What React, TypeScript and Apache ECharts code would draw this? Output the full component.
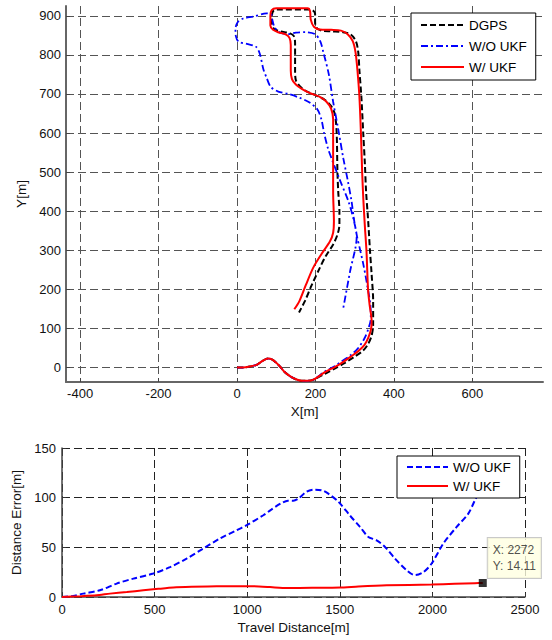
import React, { useEffect, useRef } from "react";
import * as echarts from "echarts";

// ---------- top chart (trajectory) ----------
const xTicksTop = [-400, -200, 0, 200, 400, 600];
const yTicksTop = [0, 100, 200, 300, 400, 500, 600, 700, 800, 900];

const startLeg: number[][] = [
  [0, 0], [15, 0], [35, 3], [50, 7], [62, 15], [72, 21], [80, 23], [90, 20],
  [100, 12], [110, 2], [120, -10], [135, -22], [150, -30], [165, -34], [180, -34], [195, -31],
];

const dgpsPath: number[][] = [
  ...startLeg,
  [224, -16], [250, -2], [275, 12], [300, 28], [320, 42], [333, 58], [343, 81], [347, 111],
  [347, 170], [343, 240], [339, 298], [334, 380], [329, 450], [326, 520], [322, 595], [317, 692],
  [312, 760], [309, 807], [303, 835], [290, 852], [270, 858], [240, 860], [215, 862], [202, 870],
  [199, 885], [199, 905], [193, 914], [180, 916], [100, 916], [92, 912], [89, 900], [89, 878],
  [95, 866], [110, 860], [135, 855], [145, 848], [148, 830], [148, 760], [150, 735], [160, 720],
  [175, 708], [200, 697], [225, 684], [242, 666], [250, 645], [254, 600], [256, 500], [258, 450],
  [261, 400], [261, 366], [256, 340], [245, 315], [225, 283], [211, 255], [190, 210], [173, 170],
  [158, 141],
];

const woUkfPath: number[][] = [
  ...startLeg,
  [224, -10], [250, 4], [267, 16], [290, 32], [309, 50], [325, 75], [335, 100], [341, 125],
  [340, 160], [332, 210], [322, 264], [314, 300], [306, 335], [298, 380], [292, 425], [282, 480],
  [271, 535], [258, 610], [245, 680], [234, 750], [220, 807], [212, 835], [199, 853], [175, 858],
  [150, 857], [131, 853], [110, 857], [96, 870], [90, 890], [88, 903], [75, 906], [42, 898],
  [16, 893], [2, 884], [-4, 866], [-3, 848], [4, 834], [25, 828], [48, 821], [58, 803],
  [67, 764], [76, 740], [86, 718], [105, 706], [131, 700], [160, 690], [185, 678], [205, 660],
  [215, 635], [222, 600], [232, 560], [241, 535], [262, 480], [284, 425], [298, 375], [305, 335],
  [288, 245], [271, 153],
];

const wUkfPath: number[][] = [
  ...startLeg,
  [224, -12], [250, 2], [267, 12], [290, 28], [309, 42], [325, 58], [335, 77], [342, 100],
  [343, 120], [338, 160], [334, 200], [330, 298], [326, 360], [322, 430], [319, 500], [316, 595],
  [312, 692], [307, 760], [302, 807], [295, 835], [282, 853], [265, 862], [240, 864], [211, 865],
  [196, 872], [188, 890], [186, 912], [180, 919], [100, 919], [88, 914], [85, 900], [85, 875],
  [92, 864], [105, 858], [125, 852], [134, 843], [137, 825], [137, 760], [140, 738], [150, 724],
  [165, 713], [186, 702], [210, 693], [228, 680], [240, 662], [245, 635], [245, 550], [245, 450],
  [247, 374], [245, 345], [237, 323], [215, 290], [194, 255], [175, 210], [159, 170], [146, 149],
];

// ---------- bottom chart (distance error) ----------
const woUkfErr: number[][] = [
  [0, 0], [60, 1], [115, 3.4], [205, 6.8], [295, 13.5], [385, 18.5], [493, 23.6], [583, 30],
  [673, 38.7], [763, 48.8], [853, 58.9], [943, 67.2], [997, 72.3], [1087, 82.3], [1130, 88],
  [1180, 94], [1220, 97], [1249, 96.8], [1276, 99], [1321, 106], [1360, 108], [1402, 107.5],
  [1438, 104], [1492, 96], [1555, 82], [1609, 70.6], [1654, 60.5], [1699, 57], [1744, 50.4],
  [1798, 38.7], [1861, 27], [1906, 22], [1951, 25], [1996, 33.7], [2059, 53.8], [2131, 70.6],
  [2194, 84], [2230, 97.5], [2272, 112],
];

const wUkfErr: number[][] = [
  [0, 0], [100, 0.8], [187, 1.7], [259, 3.4], [350, 5], [439, 6.8], [520, 8.2], [601, 9.5],
  [700, 10.2], [835, 10.8], [1033, 10.8], [1123, 10], [1213, 9], [1350, 9.2], [1501, 9.5],
  [1600, 10.6], [1753, 11.8], [1996, 12.5], [2120, 13.3], [2230, 13.9], [2272, 14.11],
];

const FONT = "'Liberation Sans', Arial, Helvetica, sans-serif";
const BOTTOM_TAG = " (e)";

function buildOption() {
  const tipPoint = wUkfErr[wUkfErr.length - 1];
  const labelStyle = { fontSize: 13, color: "#111", fontFamily: FONT };
  const nameStyle = { fontSize: 13.5, color: "#111", fontFamily: FONT };
  const plain = (v: number) => String(v);
  const split = (color: string) => ({
    show: true,
    lineStyle: { type: [8, 4], color, width: 1 },
  });
  return {
    animation: false,
    textStyle: { fontFamily: FONT },
    grid: [
      { left: 66, top: 6, width: 477, height: 376 },
      { left: 62, top: 448, width: 463, height: 149 },
    ],
    xAxis: [
      {
        gridIndex: 0,
        type: "value",
        min: -436,
        max: 780,
        axisLine: { show: true, onZero: false, lineStyle: { color: "#666", width: 2 } },
        axisTick: { show: true, inside: true, length: 4, customValues: xTicksTop, lineStyle: { color: "#444" } },
        axisLabel: { ...labelStyle, customValues: xTicksTop, margin: 5, formatter: plain },
        splitLine: split("#555"),
        name: "X[m]",
        nameLocation: "middle",
        nameGap: 20,
        nameTextStyle: nameStyle,
      },
      {
        gridIndex: 1,
        type: "value",
        min: 0,
        max: 2500,
        interval: 500,
        axisLine: { show: true, onZero: false, lineStyle: { color: "#444", width: 1.5 } },
        axisTick: { show: true, inside: true, length: 4, lineStyle: { color: "#333" } },
        axisLabel: { ...labelStyle, margin: 6, formatter: plain },
        splitLine: split("#222"),
        name: "Travel Distance[m]",
        nameLocation: "middle",
        nameGap: 23,
        nameTextStyle: nameStyle,
      },
    ],
    yAxis: [
      {
        gridIndex: 0,
        type: "value",
        min: -37,
        max: 925,
        axisLine: { show: true, onZero: false, lineStyle: { color: "#666", width: 2 } },
        axisTick: { show: true, inside: true, length: 4, customValues: yTicksTop, lineStyle: { color: "#444" } },
        axisLabel: { ...labelStyle, customValues: yTicksTop, margin: 5, formatter: plain },
        splitLine: split("#555"),
        name: "Y[m]",
        nameLocation: "middle",
        nameRotate: 90,
        nameGap: 37,
        nameTextStyle: nameStyle,
      },
      {
        gridIndex: 1,
        type: "value",
        min: 0,
        max: 150,
        interval: 50,
        axisLine: { show: true, onZero: false, lineStyle: { color: "#444", width: 1.5 } },
        axisTick: { show: true, inside: true, length: 4, lineStyle: { color: "#333" } },
        axisLabel: { ...labelStyle, margin: 6, formatter: plain },
        splitLine: split("#222"),
        name: "Distance Error[m]",
        nameLocation: "middle",
        nameRotate: 90,
        nameGap: 34,
        nameTextStyle: nameStyle,
      },
    ],
    legend: [
      {
        orient: "vertical",
        left: 411,
        top: 13,
        data: ["DGPS", "W/O UKF", "W/ UKF"],
        backgroundColor: "#fff",
        borderColor: "#000",
        borderWidth: 1,
        padding: [5, 9, 6, 9],
        itemGap: 7,
        itemWidth: 43,
        itemHeight: 14,
        itemStyle: { opacity: 0 },
        textStyle: { fontSize: 13.5, color: "#000", fontFamily: FONT },
        selectedMode: false,
      },
      {
        orient: "vertical",
        left: 397,
        top: 456,
        data: ["W/O UKF" + BOTTOM_TAG, "W/ UKF" + BOTTOM_TAG],
        formatter: (n: string) => n.replace(BOTTOM_TAG, ""),
        backgroundColor: "#fff",
        borderColor: "#000",
        borderWidth: 1,
        padding: [4, 9, 5, 9],
        itemGap: 5,
        itemWidth: 41,
        itemHeight: 14,
        itemStyle: { opacity: 0 },
        textStyle: { fontSize: 13.5, color: "#000", fontFamily: FONT },
        selectedMode: false,
      },
    ],
    series: [
      {
        name: "DGPS",
        type: "line",
        xAxisIndex: 0,
        yAxisIndex: 0,
        data: dgpsPath,
        symbol: "none",
        smooth: 0.3,
        lineStyle: { color: "#000", width: 2, type: [6, 3] },
        itemStyle: { color: "#000" },
      },
      {
        name: "W/O UKF",
        type: "line",
        xAxisIndex: 0,
        yAxisIndex: 0,
        data: woUkfPath,
        symbol: "none",
        smooth: 0.3,
        lineStyle: { color: "#0000ff", width: 1.8, type: [7, 3, 2, 3] },
        itemStyle: { color: "#0000ff" },
      },
      {
        name: "W/ UKF",
        type: "line",
        xAxisIndex: 0,
        yAxisIndex: 0,
        data: wUkfPath,
        symbol: "none",
        smooth: 0.3,
        lineStyle: { color: "#ff0000", width: 2 },
        itemStyle: { color: "#ff0000" },
      },
      {
        name: "W/O UKF" + BOTTOM_TAG,
        type: "line",
        xAxisIndex: 1,
        yAxisIndex: 1,
        data: woUkfErr,
        symbol: "none",
        smooth: 0.3,
        lineStyle: { color: "#0000ff", width: 2, type: [6, 3] },
        itemStyle: { color: "#0000ff" },
      },
      {
        name: "W/ UKF" + BOTTOM_TAG,
        type: "line",
        xAxisIndex: 1,
        yAxisIndex: 1,
        data: wUkfErr,
        symbol: "none",
        smooth: 0.2,
        lineStyle: { color: "#ff0000", width: 2 },
        itemStyle: { color: "#ff0000" },
      },
      {
        type: "scatter",
        xAxisIndex: 1,
        yAxisIndex: 1,
        data: [tipPoint],
        symbol: "rect",
        symbolSize: 8,
        itemStyle: { color: "#000" },
        silent: true,
        z: 10,
        label: {
          show: true,
          position: [9, -41],
          formatter: (p: any) => `X: ${p.value[0]}\nY: ${p.value[1]}`,
          backgroundColor: "#ffffe1",
          borderColor: "#bbb",
          borderWidth: 1,
          padding: [4, 5],
          fontSize: 12,
          lineHeight: 16,
          color: "#222",
          align: "left",
          fontFamily: FONT,
        },
      },
    ],
  };
}

export default function App() {
  const ref = useRef<HTMLDivElement>(null);
  useEffect(() => {
    if (!ref.current) return;
    const chart = echarts.init(ref.current, null, { renderer: "svg" });
    chart.setOption(buildOption() as any);
    return () => chart.dispose();
  }, []);
  return (
    <div
      ref={ref}
      style={{ position: "fixed", left: 0, top: 0, width: 552, height: 640, background: "#fff" }}
    />
  );
}
